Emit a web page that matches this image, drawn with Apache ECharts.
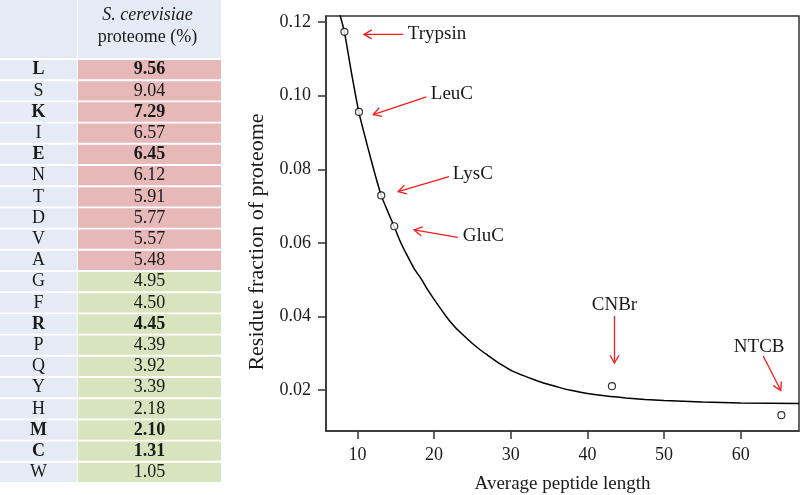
<!DOCTYPE html>
<html>
<head>
<meta charset="utf-8">
<script src="https://cdn.jsdelivr.net/npm/echarts@6/dist/echarts.min.js"></script>
<style>html,body{margin:0;padding:0;background:#fff;}#c{width:800px;height:495px;}</style>
</head>
<body>
<div id="c"></div>
<script>
// ---------- table data ----------
const residues = ['L','S','K','I','E','N','T','D','V','A','G','F','R','P','Q','Y','H','M','C','W'];
const proteomePct = ['9.56','9.04','7.29','6.57','6.45','6.12','5.91','5.77','5.57','5.48','4.95','4.50','4.45','4.39','3.92','3.39','2.18','2.10','1.31','1.05'];
const cleavageResidues = ['L','K','E','R','M','C'];
const headerTitleItalic = 'S. cerevisiae';
const headerTitleRest = 'proteome (%)';

// ---------- plot data ----------
const enzymes = ['Trypsin','LeuC','LysC','GluC','CNBr','NTCB'];
const avgPeptideLength = [8.3, 10.2, 13.1, 14.8, 43.2, 65.3];
const residueFraction = [0.1174, 0.0956, 0.0729, 0.0645, 0.0210, 0.0131];

// fitted curve
const curveX = [7.7, 8.3, 9.2, 10.2, 11.5, 12.3, 13.1, 14.0, 14.8, 15.6, 16.5, 17.4, 18.4, 19.2, 20, 21.6, 22.8, 24, 25, 26, 27, 28, 29, 30.3, 31.5, 33, 34.5, 36.4, 38, 40, 42.5, 45, 47.5, 50, 55, 60, 67.6];
const curveY = [0.1222, 0.1174, 0.1065, 0.0954, 0.0848, 0.0786, 0.0729, 0.0683, 0.0644, 0.0603, 0.0565, 0.0530, 0.0499, 0.0471, 0.0446, 0.0399, 0.0369, 0.0345, 0.0326, 0.0309, 0.0294, 0.0279, 0.0266, 0.0250, 0.0240, 0.0228, 0.0217, 0.0206, 0.0198, 0.0190, 0.0183, 0.0178, 0.0174, 0.0171, 0.0167, 0.0164, 0.0163];

// annotation arrows (data coords): tail, tip, label
const arrowTailX = [15.96, 19.0, 21.95, 23.1, 43.53, 62.93];
const arrowTailY = [0.1167, 0.0997, 0.0780, 0.0615, 0.0401, 0.0292];
const arrowTipX  = [10.85, 12.06, 15.31, 17.4, 43.53, 65.23];
const arrowTipY  = [0.1167, 0.0949, 0.0739, 0.0635, 0.0273, 0.0198];
const labelX     = [16.57, 19.57, 22.43, 23.74, 43.53, 62.4];
const labelY     = [0.1167, 0.1004, 0.0787, 0.0618, 0.0432, 0.0316];
const labelAlign = ['left','left','left','left','center','center'];

// axes
const xTicks = [10, 20, 30, 40, 50, 60];
const yTicks = [0.02, 0.04, 0.06, 0.08, 0.10, 0.12];
const xRange = [5.9, 67.6];
const yRange = [0.0088, 0.1217];

// ---------- styling ----------
const FONT = '"Liberation Serif", "DejaVu Serif", serif';
const TXT = '#1a1a1a';
const BLUE = '#e4ebf5';
const PINK = '#e6b9b8';
const GREEN = '#d7e4bd';

const chart = echarts.init(document.getElementById('c'), null, {renderer: 'canvas'});

const ones = residues.map(() => 1);
const isBold = residues.map(r => cleavageResidues.indexOf(r) >= 0);

function hiddenValueAxis(gi) {
  return {type: 'value', gridIndex: gi, min: 0, max: 1, show: false};
}
function hiddenCatAxis(gi, data) {
  return {type: 'category', gridIndex: gi, data: data, inverse: true, show: false};
}

const option = {
  animation: false,
  backgroundColor: '#fff',
  textStyle: {fontFamily: FONT, color: TXT},
  grid: [
    {left: 326, top: 16, width: 473, height: 415, show: true, borderColor: '#333', borderWidth: 1.5, backgroundColor: 'transparent', containLabel: false, outerBoundsMode: 'none'},
    {left: 0, top: 59, width: 77, height: 424, outerBoundsMode: 'none'},
    {left: 78, top: 59, width: 143, height: 424, outerBoundsMode: 'none'},
    {left: 0, top: 0, width: 77, height: 58, outerBoundsMode: 'none'},
    {left: 78, top: 0, width: 143, height: 58, outerBoundsMode: 'none'}
  ],
  xAxis: [
    {
      type: 'value', gridIndex: 0, min: xRange[0], max: xRange[1],
      name: 'Average peptide length', nameLocation: 'middle', nameGap: 44,
      nameTextStyle: {fontFamily: FONT, fontSize: 19, color: TXT},
      axisLine: {show: true, lineStyle: {color: '#333', width: 1.5}},
      axisTick: {show: true, length: 8, lineStyle: {color: '#333', width: 1.5}, customValues: xTicks},
      axisLabel: {fontFamily: FONT, fontSize: 18, color: TXT, margin: 15, customValues: xTicks},
      splitLine: {show: false}
    },
    hiddenValueAxis(1), hiddenValueAxis(2), hiddenValueAxis(3), hiddenValueAxis(4)
  ],
  yAxis: [
    {
      type: 'value', gridIndex: 0, min: yRange[0], max: yRange[1],
      name: 'Residue fraction of proteome', nameLocation: 'middle', nameGap: 56,
      nameTextStyle: {fontFamily: FONT, fontSize: 22, color: TXT, padding: [0, 37, 0, 0]},
      axisLine: {show: true, lineStyle: {color: '#333', width: 1.5}},
      axisTick: {show: true, length: 8, lineStyle: {color: '#333', width: 1.5}, customValues: yTicks},
      axisLabel: {fontFamily: FONT, fontSize: 18, color: TXT, margin: 15, customValues: yTicks,
        formatter: v => v.toFixed(2)},
      splitLine: {show: false}
    },
    hiddenCatAxis(1, residues), hiddenCatAxis(2, residues),
    hiddenCatAxis(3, ['h']), hiddenCatAxis(4, ['h'])
  ],
  series: [
    {
      type: 'line', xAxisIndex: 0, yAxisIndex: 0,
      data: curveX.map((x, i) => [x, curveY[i]]),
      smooth: 0.2, showSymbol: false, symbol: 'none', clip: true,
      lineStyle: {color: '#000', width: 1.5}, z: 3
    },
    {
      type: 'scatter', xAxisIndex: 0, yAxisIndex: 0,
      data: avgPeptideLength.map((x, i) => [x, residueFraction[i]]),
      symbol: 'circle', symbolSize: 7,
      itemStyle: {color: '#fff', borderColor: '#000', borderWidth: 1.2}, z: 4
    },
    {
      type: 'custom', xAxisIndex: 0, yAxisIndex: 0, clip: false, z: 5,
      data: enzymes.map((n, i) => [arrowTailX[i], arrowTailY[i], arrowTipX[i], arrowTipY[i], labelX[i], labelY[i]]),
      encode: {x: [0, 2, 4], y: [1, 3, 5]},
      renderItem: function (params, api) {
        const i = params.dataIndex;
        const t = api.coord([api.value(0), api.value(1)]);
        const h = api.coord([api.value(2), api.value(3)]);
        const l = api.coord([api.value(4), api.value(5)]);
        const ang = Math.atan2(t[1] - h[1], t[0] - h[0]);
        const L = 9, a = Math.PI / 6;
        const p1 = [h[0] + L * Math.cos(ang + a), h[1] + L * Math.sin(ang + a)];
        const p2 = [h[0] + L * Math.cos(ang - a), h[1] + L * Math.sin(ang - a)];
        return {
          type: 'group',
          children: [
            {type: 'line', shape: {x1: t[0], y1: t[1], x2: h[0], y2: h[1]}, style: {stroke: '#f21d1d', lineWidth: 1.3}},
            {type: 'polyline', shape: {points: [p1, h, p2]}, style: {stroke: '#f21d1d', fill: null, lineWidth: 1.3}},
            {type: 'text', x: l[0], y: l[1], style: {text: enzymes[i], fill: TXT, fontFamily: FONT, fontSize: 19, align: labelAlign[i], verticalAlign: 'middle'}}
          ]
        };
      }
    },
    // table: residue column
    {
      type: 'bar', xAxisIndex: 1, yAxisIndex: 1, barCategoryGap: '9%',
      data: ones.map((v, i) => ({value: v, itemStyle: {color: BLUE},
        label: {fontWeight: isBold[i] ? 'bold' : 'normal'}})),
      label: {show: true, position: 'inside', fontFamily: FONT, fontSize: 18, color: TXT,
        formatter: p => residues[p.dataIndex]},
      silent: true
    },
    // table: percentage column
    {
      type: 'bar', xAxisIndex: 2, yAxisIndex: 2, barCategoryGap: '9%',
      data: ones.map((v, i) => ({value: v, itemStyle: {color: i < 10 ? PINK : GREEN},
        label: {fontWeight: isBold[i] ? 'bold' : 'normal'}})),
      label: {show: true, position: 'inside', fontFamily: FONT, fontSize: 18, color: TXT,
        formatter: p => proteomePct[p.dataIndex]},
      silent: true
    },
    // table header
    {
      type: 'bar', xAxisIndex: 3, yAxisIndex: 3, barCategoryGap: 0,
      data: [{value: 1, itemStyle: {color: BLUE}}], label: {show: false}, silent: true
    },
    {
      type: 'bar', xAxisIndex: 4, yAxisIndex: 4, barCategoryGap: 0,
      data: [{value: 1, itemStyle: {color: BLUE}}],
      label: {
        show: true, position: 'inside', offset: [-2, -3],
        formatter: '{i|' + headerTitleItalic + '}\n{n|' + headerTitleRest + '}',
        rich: {
          i: {fontFamily: FONT, fontSize: 18, fontStyle: 'italic', color: TXT, lineHeight: 22, align: 'center'},
          n: {fontFamily: FONT, fontSize: 18, color: TXT, lineHeight: 22, align: 'center'}
        }
      },
      silent: true
    }
  ]
};
chart.setOption(option);
</script>
</body>
</html>
